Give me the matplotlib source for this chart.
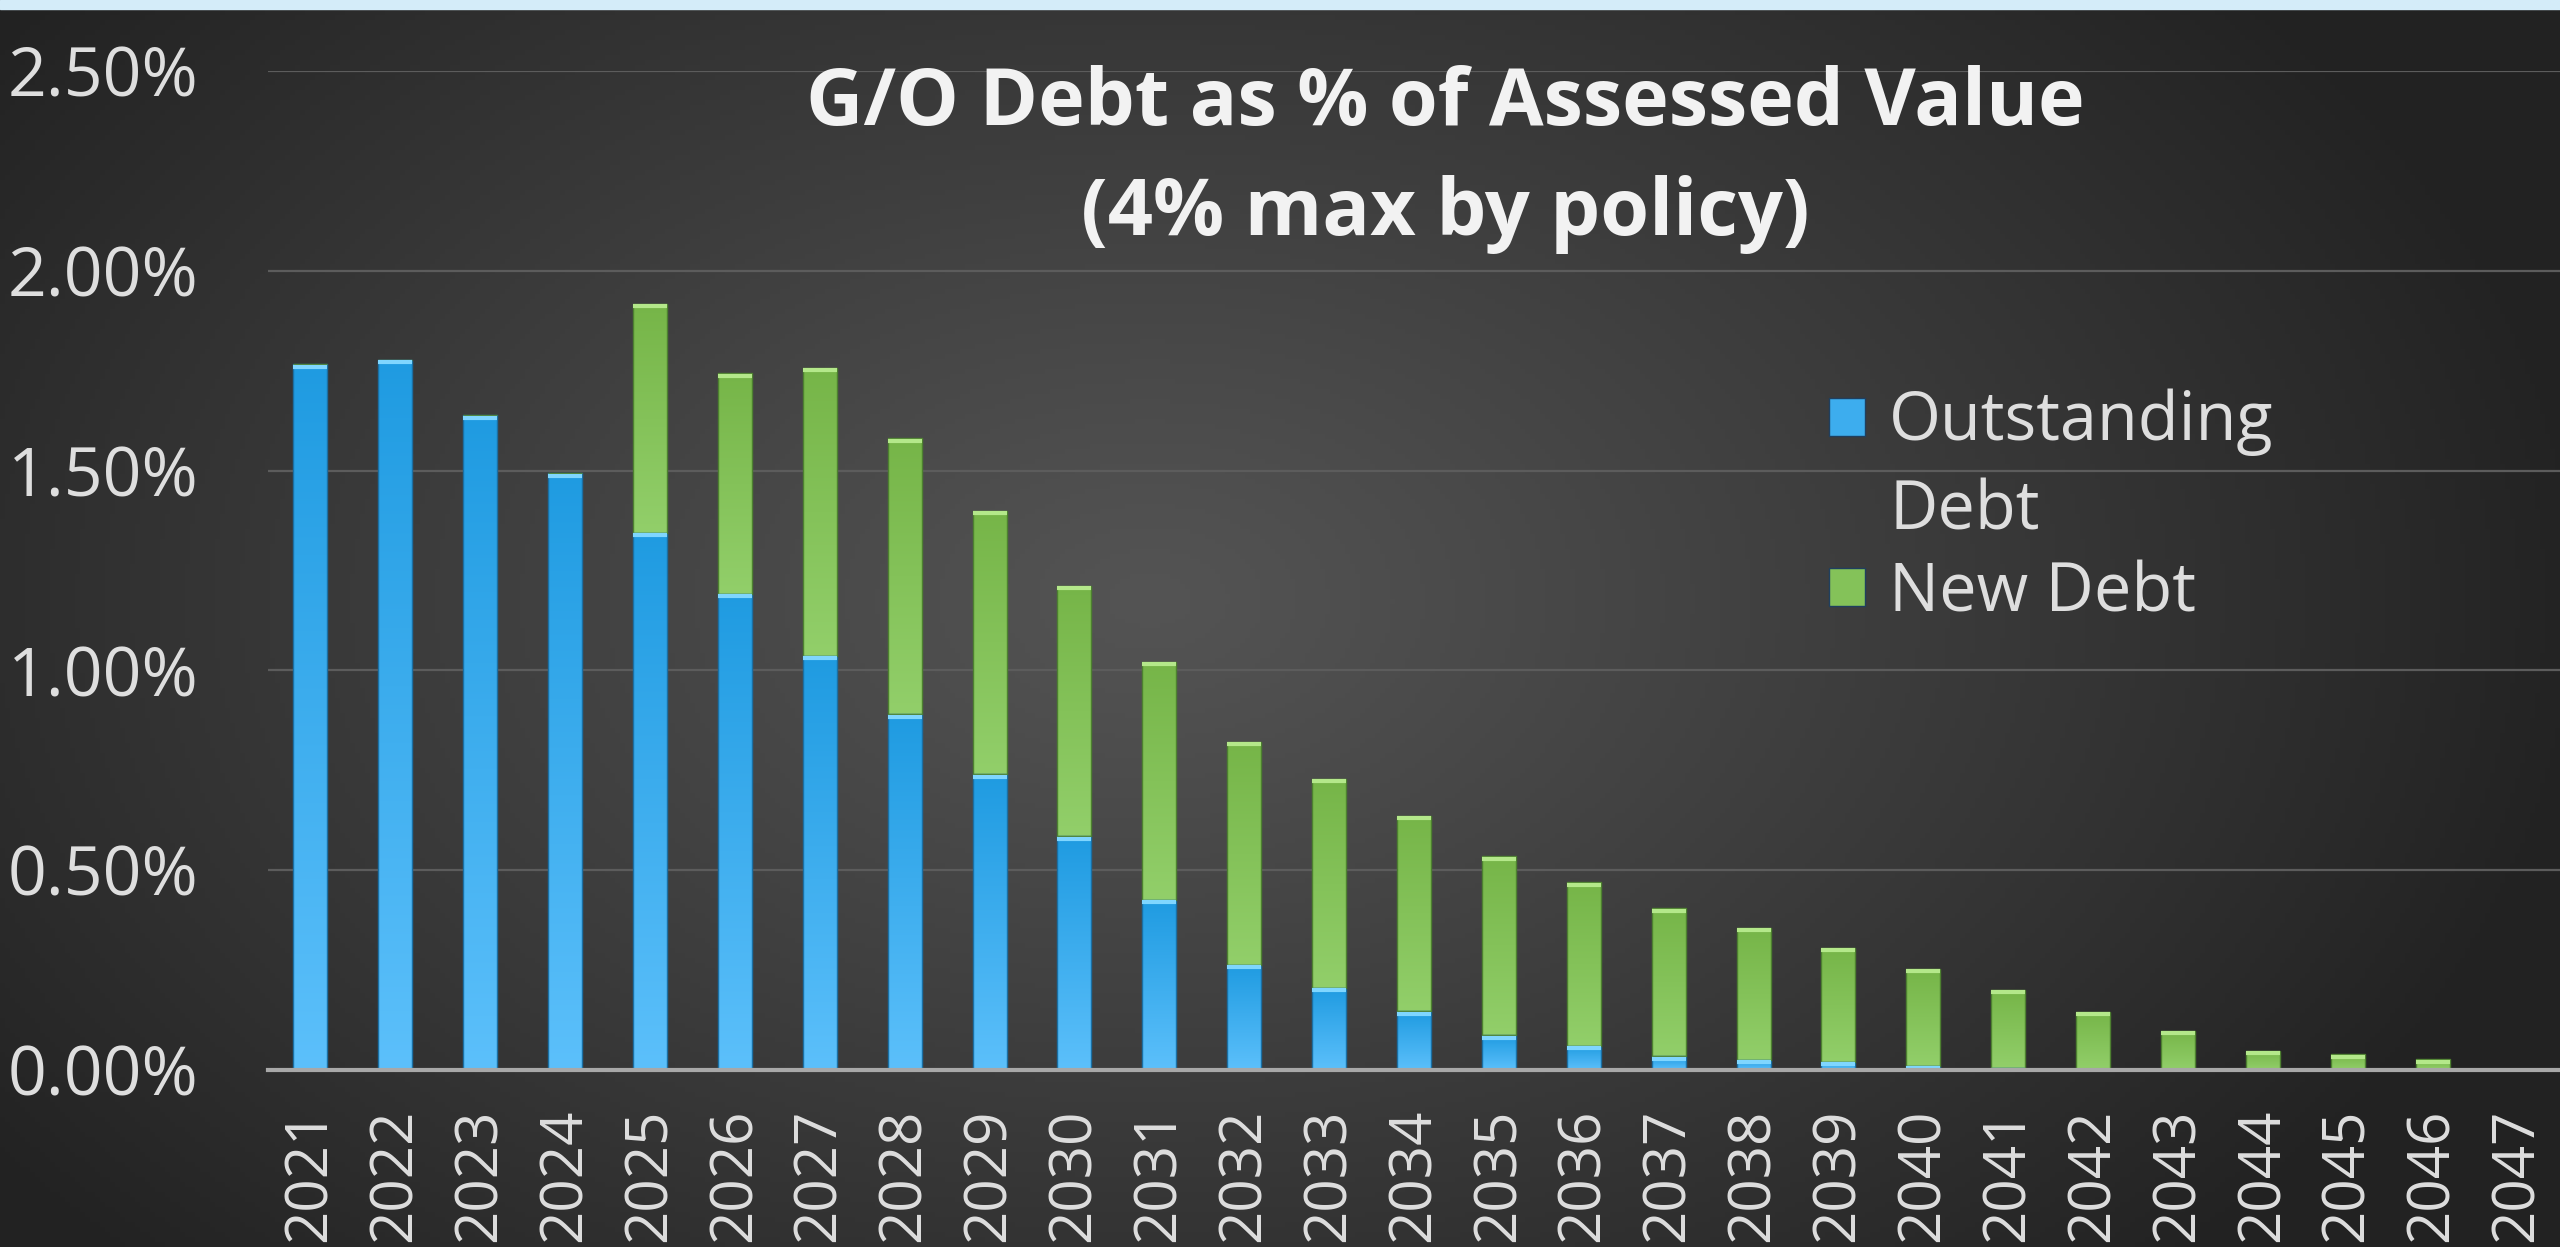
import numpy as np
import matplotlib
matplotlib.use("Agg")
import matplotlib.pyplot as plt
from matplotlib.colors import LinearSegmentedColormap
from matplotlib.patches import Rectangle
from matplotlib.ticker import FuncFormatter, MultipleLocator

# data (percent of assessed value)
years = [str(y) for y in range(2021, 2048)]
outstanding = [1.766, 1.778, 1.638, 1.493, 1.345, 1.192, 1.037, 0.890, 0.740,
               0.585, 0.426, 0.264, 0.206, 0.147, 0.087, 0.061, 0.034, 0.026,
               0.020, 0.011, 0.005, 0.0, 0.0, 0.0, 0.0, 0.0, 0.0]
new_debt = [0.0, 0.0, 0.0, 0.0, 0.573, 0.551, 0.721, 0.691, 0.659, 0.626,
            0.596, 0.558, 0.523, 0.489, 0.448, 0.409, 0.371, 0.330, 0.286,
            0.243, 0.195, 0.146, 0.098, 0.048, 0.039, 0.027, 0.0]

title_1 = "G/O Debt as % of Assessed Value"
title_2 = "(4% max by policy)"
labels = ["Outstanding\nDebt", "New Debt"]

W, H = 2560, 1247
fig = plt.figure(figsize=(W / 100, H / 100), dpi=100)
font = "Open Sans"
txt_col = "#dedede"

# dark radial background
bg = fig.add_axes([0, 0, 1, 1], zorder=-10)
gx, gy = np.meshgrid(np.linspace(0, W, 512), np.linspace(0, H, 250))
r = np.sqrt(((gx - 1150) / 1450) ** 2 + ((gy - 600) / 950) ** 2)
shade = 84 - 50 * np.clip(r, 0, 1) ** 1.1
bg.imshow(np.dstack([shade] * 3) / 255, extent=(0, W, H, 0), aspect="auto")
bg.add_patch(Rectangle((0, 0), W, 9, color="#d4ecf9"))
bg.set_xlim(0, W)
bg.set_ylim(H, 0)
bg.axis("off")

ax = fig.add_axes([268 / W, 177 / H, 1 - 268 / W, (1070 - 71) / H])
ax.set_facecolor("none")

x = np.arange(len(years))
bw = 0.4
blue_cm = LinearSegmentedColormap.from_list("b", ["#5cc0fb", "#1f9be1"])
green_cm = LinearSegmentedColormap.from_list("g", ["#92cf6a", "#76b548"])

b1 = ax.bar(x, outstanding, bw, color="none", edgecolor="#1b6fa3", lw=1, zorder=3)
b2 = ax.bar(x, new_debt, bw, bottom=outstanding, color="none",
            edgecolor="#4d8030", lw=1, zorder=3)

grad = np.linspace(0, 1, 256).reshape(-1, 1)
for bars, cm, cap in [(b1, blue_cm, "#7fd6ff"), (b2, green_cm, "#b4e88a")]:
    for p in bars:
        h = p.get_height()
        if h <= 0:
            continue
        x0, y0, w = p.get_x(), p.get_y(), p.get_width()
        im = ax.imshow(grad, extent=(x0, x0 + w, y0, y0 + h), cmap=cm,
                       aspect="auto", origin="lower", zorder=2)
        im.set_clip_path(p)
        ax.hlines(y0 + h - 0.006, x0, x0 + w, color=cap, lw=3, zorder=4)

ax.set_xlim(-0.5, len(years) - 0.5)
ax.set_ylim(0, 2.5)
ax.yaxis.set_major_locator(MultipleLocator(0.5))
ax.yaxis.set_major_formatter(FuncFormatter(lambda v, _: f"{v:.2f}%"))
ax.grid(axis="y", color="#5c5c5c", lw=1.6, zorder=0)
ax.set_axisbelow(True)
for s in ["top", "right", "left"]:
    ax.spines[s].set_visible(False)
ax.spines["bottom"].set_color("#a8a8a8")
ax.spines["bottom"].set_linewidth(3)
ax.spines["bottom"].set_zorder(5)
ax.tick_params(length=0)
ax.tick_params(axis="y", pad=50, labelsize=49, labelcolor=txt_col)
ax.tick_params(axis="x", pad=28, labelsize=42, labelcolor=txt_col)
ax.set_xticks(x)
ax.set_xticklabels(years, rotation=90, fontfamily=font)
for t in ax.get_yticklabels():
    t.set_fontfamily(font)

for txt, yy in [(title_1, 104), (title_2, 214)]:
    fig.text(1445 / W, 1 - yy / H, txt, ha="center", va="center", fontsize=57,
             fontweight="bold", color="#f2f2f2", fontfamily=font)

# legend drawn by hand to keep the marker on the first line
for lab, top, base, cm in [(labels[0], 398, [440, 530], blue_cm),
                           (labels[1], 568, [611], green_cm)]:
    bg.add_patch(Rectangle((1829, top), 36, 38, facecolor=cm(0.5),
                           edgecolor="#1f3f5f", lw=1))
    for line, b in zip(lab.split("\n"), base):
        bg.text(1889, b, line, ha="left", va="baseline", fontsize=48,
                color=txt_col, fontfamily=font)

fig.savefig("out.png", dpi=100)
